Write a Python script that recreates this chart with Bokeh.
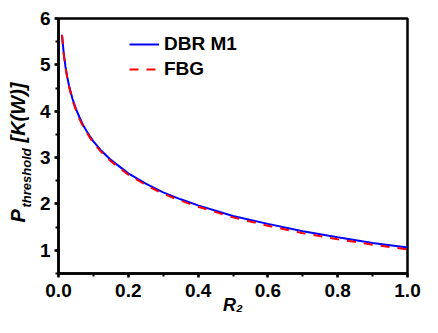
from bokeh.plotting import figure
from bokeh.models import (Range1d, SingleIntervalTicker, PrintfTickFormatter, Legend,
                          LegendItem, Title)
from bokeh.embed import file_html
from bokeh.resources import INLINE

r2 = [0.01, 0.015, 0.02, 0.025, 0.03, 0.04, 0.05, 0.06, 0.07, 0.08, 0.09, 0.10, 0.12, 0.15,
      0.20, 0.25, 0.30, 0.35, 0.40, 0.50, 0.60, 0.70, 0.80, 0.90, 1.00]
dbr_m1 = [5.65, 5.25, 4.96, 4.74, 4.56, 4.27, 4.05, 3.87, 3.71, 3.58, 3.46, 3.35, 3.17, 2.95,
          2.66, 2.44, 2.25, 2.10, 1.97, 1.74, 1.57, 1.41, 1.28, 1.16, 1.06]
fbg = [5.64, 5.23, 4.94, 4.72, 4.53, 4.24, 4.02, 3.83, 3.68, 3.55, 3.43, 3.32, 3.14, 2.92,
       2.63, 2.41, 2.22, 2.07, 1.94, 1.71, 1.53, 1.37, 1.24, 1.12, 1.02]
series_names = ["DBR M1", "FBG"]
x_title = "R\u2082"
y_title = ("P", "threshold", "[K(W)]")

FONT = "Liberation Sans"

p = figure(width=422, height=317, output_backend="svg", toolbar_location=None,
           x_range=Range1d(0, 1), y_range=Range1d(0.5, 6),
           min_border_left=58, min_border_right=15, min_border_top=18, min_border_bottom=44)
p.grid.visible = False
p.outline_line_color = "black"
p.outline_line_width = 2.5
p.background_fill_color = "white"
p.border_fill_color = "white"

r_dbr = p.line(r2, dbr_m1, line_color="#0000ff", line_width=2)
r_fbg = p.line(r2, fbg, line_color="#ff0000", line_width=2, line_dash="9 8")

for ax in (p.xaxis[0], p.yaxis[0]):
    ax.axis_line_width = 2.5
    ax.major_tick_line_width = 2.5
    ax.minor_tick_line_width = 2
    ax.major_tick_in = 0
    ax.major_tick_out = 4
    ax.minor_tick_in = 0
    ax.minor_tick_out = 3
    ax.major_label_text_font = FONT
    ax.major_label_text_font_style = "bold"
    ax.major_label_text_font_size = "19px"
    ax.major_label_text_color = "black"

p.xaxis.ticker = SingleIntervalTicker(interval=0.2, num_minor_ticks=2)
p.xaxis.formatter = PrintfTickFormatter(format="%.1f")
p.xaxis.major_label_standoff = 6
p.xaxis.axis_label = x_title
p.xaxis.axis_label_text_font = FONT
p.xaxis.axis_label_text_font_style = "bold italic"
p.xaxis.axis_label_text_font_size = "18px"
p.xaxis.axis_label_text_color = "black"
p.xaxis.axis_label_standoff = -5

p.yaxis.ticker = SingleIntervalTicker(interval=1, num_minor_ticks=2)
p.yaxis.formatter = PrintfTickFormatter(format="%d")
p.yaxis.major_label_standoff = 4

legend = Legend(items=[LegendItem(label=series_names[0], renderers=[r_dbr]),
                       LegendItem(label=series_names[1], renderers=[r_fbg])],
                location=(71, 193), padding=0, margin=0, spacing=3,
                glyph_width=30, glyph_height=22, label_height=22, label_standoff=5,
                label_text_font=FONT, label_text_font_style="bold", label_text_font_size="19px",
                label_text_color="black",
                border_line_alpha=0, background_fill_alpha=0)
p.add_layout(legend, "center")

# y-axis title from two side-panel titles: subscript nearer the frame, main text outside
gap = "\u00a0" * 12
p.add_layout(Title(text=y_title[1], align="left", offset=66, vertical_align="top", standoff=1,
                   text_font=FONT, text_font_size="13px", text_font_style="bold italic",
                   text_color="black"), "left")
p.add_layout(Title(text=y_title[0] + gap + y_title[2], align="left", offset=51,
                   vertical_align="bottom", standoff=-20,
                   text_font=FONT, text_font_size="20px", text_font_style="bold italic",
                   text_color="black"), "left")

open("out.html", "w").write(file_html(p, INLINE))
